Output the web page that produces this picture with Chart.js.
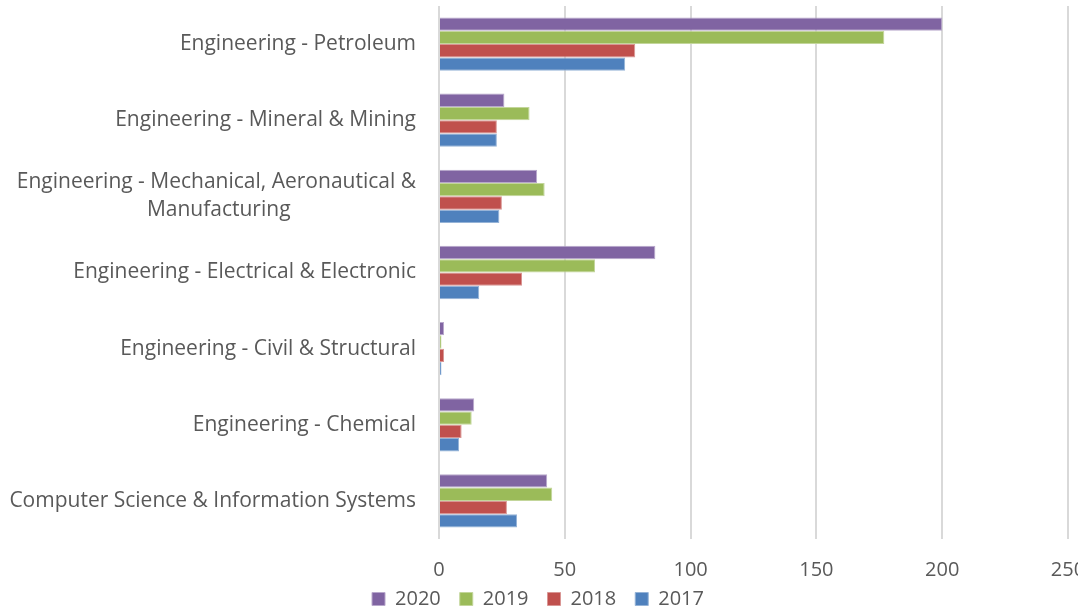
<!DOCTYPE html>
<html>
<head>
<meta charset="utf-8">
<script src="https://cdn.jsdelivr.net/npm/chart.js@4"></script>
<style>
html,body{margin:0;padding:0;background:#fff;overflow:hidden;width:1078px;height:610px;}
#wrap{position:relative;width:1078px;height:636px;}
</style>
</head>
<body>
<div id="wrap"><canvas id="c"></canvas></div>
<script>
const categories = [
  "Engineering - Petroleum",
  "Engineering - Mineral & Mining",
  ["Engineering - Mechanical, Aeronautical &", "Manufacturing"],
  "Engineering - Electrical & Electronic",
  "Engineering - Civil & Structural",
  "Engineering - Chemical",
  "Computer Science & Information Systems"
];
const seriesNames = ["2020", "2019", "2018", "2017"];
const values2020 = [200, 26, 39, 86, 2, 14, 43];
const values2019 = [177, 36, 42, 62, 1, 13, 45];
const values2018 = [78, 23, 25, 33, 2, 9, 27];
const values2017 = [74, 23, 24, 16, 1, 8, 31];
const xTicks = [0, 50, 100, 150, 200, 250];

const colors = ["#8064A2", "#9BBB59", "#C0504D", "#4F81BD"];
const borders = ["#B8A8CC", "#C3D69B", "#D99694", "#95B3D7"];
const allValues = [values2020, values2019, values2018, values2017];

const FONT = "'Open Sans', sans-serif";
const CAT_SIZE = 21;

// center the lines of multi-line category labels relative to each other
const measureCtx = document.createElement('canvas').getContext('2d');
measureCtx.font = CAT_SIZE + "px " + FONT;
function centerLines(label) {
  if (!Array.isArray(label)) return label;
  const widths = label.map(s => measureCtx.measureText(s).width);
  const maxW = Math.max(...widths);
  const sp = measureCtx.measureText(' ').width;
  return label.map((s, i) => s + ' '.repeat(Math.round((maxW - widths[i]) / 2 / sp)));
}

// pull the legend up close under the axis labels
const legendShift = {
  id: 'legendShift',
  afterLayout(chart) {
    const l = chart.legend;
    if (!l) return;
    const dy = (chart.chartArea.bottom + 31) - l.top;
    l.top += dy; l.bottom += dy;
    if (l.legendHitBoxes) l.legendHitBoxes.forEach(h => { h.top += dy; });
  }
};

new Chart(document.getElementById('c'), {
  type: 'bar',
  data: {
    labels: categories,
    datasets: seriesNames.map((n, i) => ({
      label: n,
      data: allValues[i],
      backgroundColor: colors[i],
      borderColor: borders[i],
      borderWidth: 1,
      categoryPercentage: 0.7,
      barPercentage: 1.0
    }))
  },
  plugins: [legendShift],
  options: {
    indexAxis: 'y',
    responsive: true,
    maintainAspectRatio: false,
    animation: false,
    layout: { padding: { top: 6, left: 8, right: 10, bottom: 0 } },
    plugins: {
      legend: {
        position: 'bottom',
        labels: {
          font: { family: FONT, size: 20 },
          color: '#595959',
          boxWidth: 13,
          boxHeight: 13,
          padding: 19
        }
      },
      tooltip: { enabled: false }
    },
    scales: {
      x: {
        min: 0,
        max: 250,
        afterBuildTicks: (axis) => { axis.ticks = xTicks.map(v => ({ value: v })); },
        afterFit: (axis) => { axis.paddingLeft = 0; axis.paddingRight = 0; axis.height = 48; },
        grid: { color: '#D9D9D9', lineWidth: 2, drawTicks: false },
        border: { display: false },
        ticks: {
          font: { family: FONT, size: 20 },
          color: '#595959',
          padding: 19
        }
      },
      y: {
        afterFit: (axis) => { axis.paddingTop = 0; axis.paddingBottom = 0; axis.width = 431; },
        grid: { display: false },
        border: { display: false },
        ticks: {
          font: { family: FONT, size: CAT_SIZE, lineHeight: 1.32 },
          color: '#595959',
          padding: 15,
          callback: function(value) { return centerLines(this.getLabelForValue(value)); }
        }
      }
    }
  }
});
</script>
</body>
</html>
